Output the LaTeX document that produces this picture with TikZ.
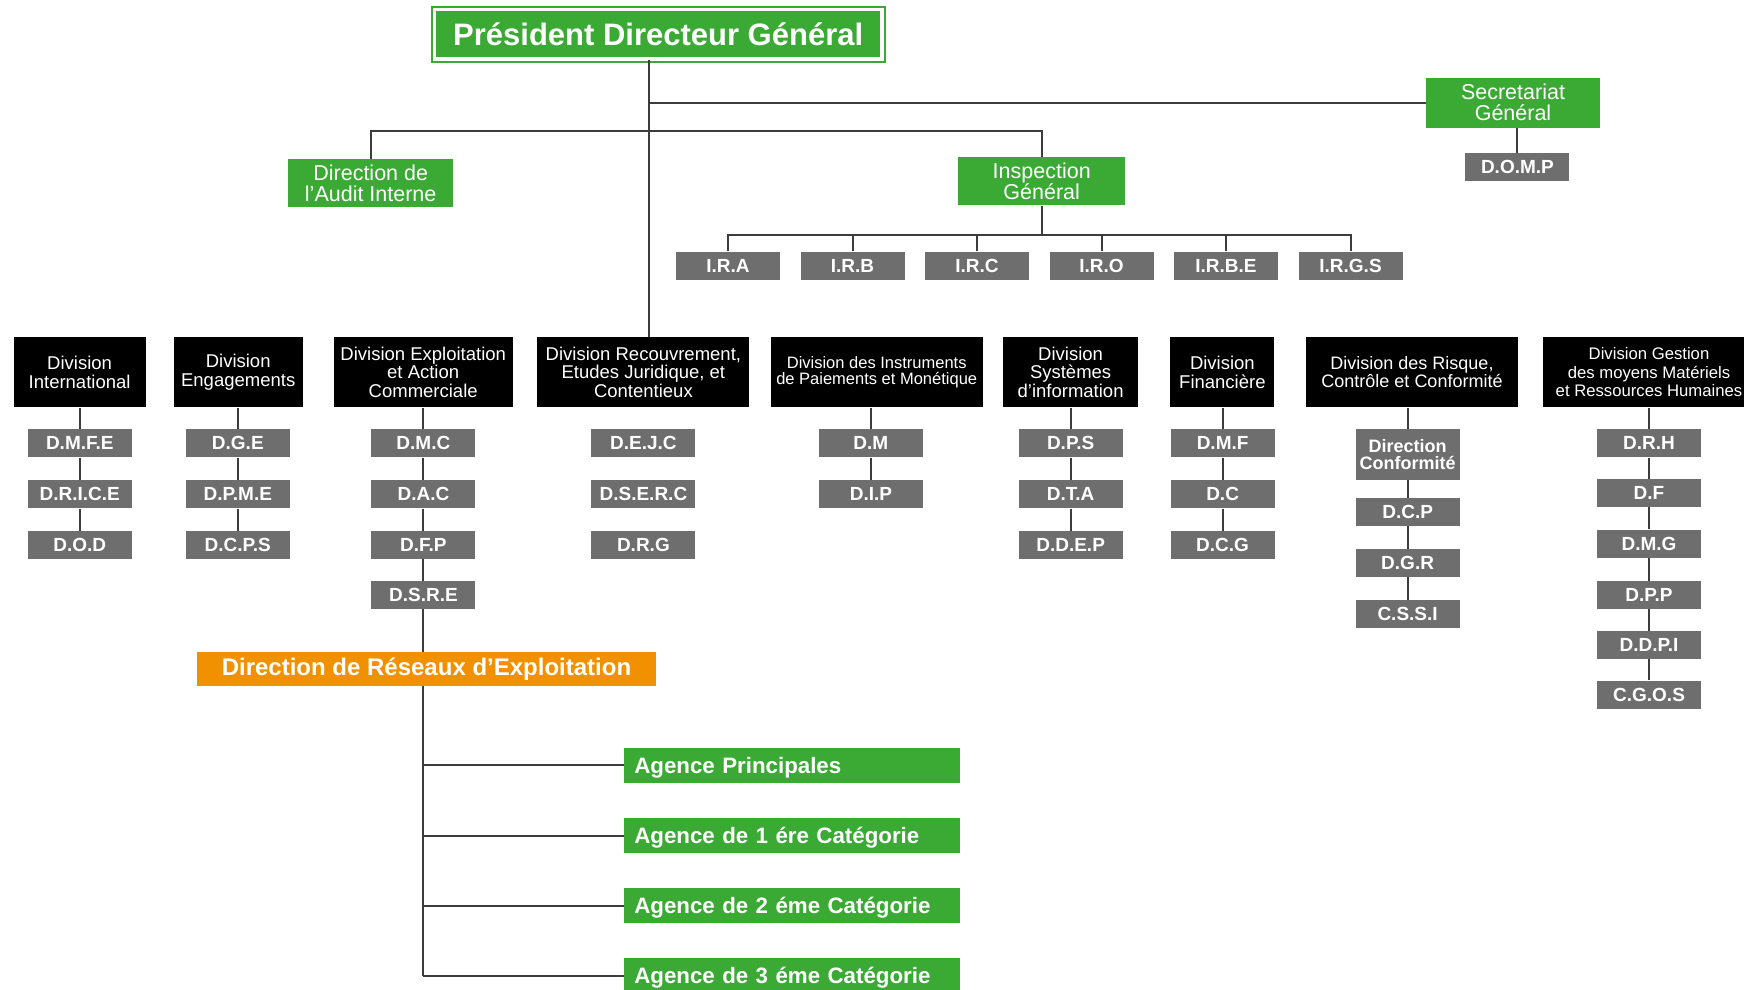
\documentclass[tikz,border=0pt]{standalone}
\usepackage{fontspec}
\setmainfont{Liberation Sans}
\usepackage{xcolor}
\usepackage{tikz}
\usetikzlibrary{calc}
\usetikzlibrary{positioning}
\definecolor{pgreen}{RGB}{59,170,53}
\definecolor{pgray}{RGB}{110,110,110}
\definecolor{porange}{RGB}{242,145,0}
\definecolor{pline}{RGB}{60,60,60}
\tikzstyle{lnk} = [-, draw = pline, line width = 2pt]
\tikzstyle{grn} = [rectangle, fill = pgreen, text = white, inner sep = 0pt, align = center, font = \fontsize{21.5}{20.5}\selectfont]
\tikzstyle{div} = [rectangle, fill = black, text = white, inner sep = 0pt, minimum height = 70pt, align = center, font = \fontsize{18.5}{18.7}\selectfont]
\tikzstyle{sub} = [rectangle, fill = pgray, text = white, inner sep = 0pt, minimum width = 104pt, minimum height = 28pt, align = center, font = \fontsize{19}{19}\selectfont\bfseries]
\tikzstyle{age} = [rectangle, fill = pgreen, text = white, inner xsep = 10.5pt, inner ysep = 0pt, text width = 315pt, minimum height = 35.3pt, text height = 16pt, text depth = 0pt, align = left, font = \fontsize{22.3}{22.3}\selectfont\bfseries]

\begin{document}
\begin{tikzpicture}[x = 1pt, y = -1pt]
\useasboundingbox (0, 0) rectangle (1744, 989);
% top of the chart
\node [rectangle, fill = pgreen, draw = pgreen, double = white, double distance = 3.5pt, line width = 2pt, inner sep = 0pt, minimum width = 447.5pt, minimum height = 49.2pt, text = white, font = \fontsize{31}{31}\selectfont\bfseries] (PDG) at (658.2, 34.3) {Président Directeur Général};
\node [grn, minimum width = 174pt, minimum height = 50pt] (SG) at (1513, 102.5) {Secretariat\\Général};
\node [sub] (DOMP) at (1517.4, 167.2) {D.O.M.P};
\node [grn, minimum width = 165pt, minimum height = 48pt] (AUD) at (370.7, 183.3) {Direction de\\l’Audit Interne};
\node [grn, minimum width = 166.5pt, minimum height = 48pt] (IG) at (1041.7, 181.3) {Inspection\\Général};
\node [sub] (IRA) at (728, 265.5) {I.R.A};
\node [sub] (IRB) at (852.5, 265.5) {I.R.B};
\node [sub] (IRC) at (977, 265.5) {I.R.C};
\node [sub] (IRO) at (1101.5, 265.5) {I.R.O};
\node [sub] (IRBE) at (1226, 265.5) {I.R.B.E};
\node [sub] (IRGS) at (1350.5, 265.5) {I.R.G.S};
\coordinate (SP) at (648.6, 0);
\draw [lnk] (PDG.south -| SP) -- (SP |- 0, 337.3) coordinate (SPE);
\draw [lnk] (SP |- SG.west) to (SG.west);
\draw [lnk] (SG.south -| DOMP.north) to (DOMP.north);
\draw [lnk] (AUD.north) -- ++(0, -28) -| (IG.north);
\draw [lnk] (IG.south) -- ++(0, 29) coordinate (IB);
\draw [lnk] (IRA.north) |- (IB) -| (IRGS.north);
\draw [lnk] (IRB.north) to (IRB.north |- IB);
\draw [lnk] (IRC.north) to (IRC.north |- IB);
\draw [lnk] (IRO.north) to (IRO.north |- IB);
\draw [lnk] (IRBE.north) to (IRBE.north |- IB);

% divisions
\node [div, minimum width = 132pt] (divInt) at (79.6, 372.3) {Division\\International};
\node [div, minimum width = 128.6pt] (divEng) at (238.2, 372.3) {Division\\Engagements};
\node [div, minimum width = 178.6pt] (divExp) at (423.2, 372.3) {Division Exploitation\\et Action\\Commerciale};
\node [div, minimum width = 212pt] (divRec) at (643.4, 372.3) {Division Recouvrement,\\Etudes Juridique, et\\Contentieux};
\node [div, minimum width = 212pt, font = \fontsize{16.5}{16.7}\selectfont] (divIns) at (876.7, 372.3) {Division des Instruments\\de Paiements et Monétique};
\node [div, minimum width = 134.8pt] (divSys) at (1070.6, 372.3) {Division\\Systèmes\\d’information};
\node [div, minimum width = 104pt] (divFin) at (1222.4, 372.3) {Division\\Financière};
\node [div, minimum width = 212pt, font = \fontsize{18}{18.3}\selectfont] (divRsk) at (1412, 372.3) {Division des Risque,\\Contrôle et Conformité};
\node [div, minimum width = 212pt, font = \fontsize{16.7}{18.7}\selectfont] (divGes) at (1649, 372.3) {Division Gestion\\des moyens Matériels\\et Ressources Humaines};

% directions
\node [sub] (DMFE) at (79.8, 443.3) {D.M.F.E};
\node [sub] (DRICE) at (79.8, 494.3) {D.R.I.C.E};
\node [sub] (DOD) at (79.8, 545) {D.O.D};
\node [sub] (DGE) at (237.8, 443.3) {D.G.E};
\node [sub] (DPME) at (237.8, 494.3) {D.P.M.E};
\node [sub] (DCPS) at (237.8, 545) {D.C.P.S};
\node [sub] (DMC) at (423.4, 443.3) {D.M.C};
\node [sub] (DAC) at (423.4, 494.3) {D.A.C};
\node [sub] (DFP) at (423.4, 545) {D.F.P};
\node [sub] (DSRE) at (423.4, 595) {D.S.R.E};
\node [sub] (DEJC) at (643.4, 443.3) {D.E.J.C};
\node [sub] (DSERC) at (643.4, 494.3) {D.S.E.R.C};
\node [sub] (DRG) at (643.4, 545) {D.R.G};
\node [sub] (DM) at (870.9, 443.3) {D.M};
\node [sub] (DIP) at (870.9, 494.3) {D.I.P};
\node [sub] (DPS) at (1070.6, 443.3) {D.P.S};
\node [sub] (DTA) at (1070.6, 494.3) {D.T.A};
\node [sub] (DDEP) at (1070.6, 545) {D.D.E.P};
\node [sub] (DMF) at (1222.6, 443.3) {D.M.F};
\node [sub] (DC) at (1222.6, 494.3) {D.C};
\node [sub] (DCG) at (1222.6, 545) {D.C.G};
\node [sub, minimum height = 50.7pt, font = \fontsize{18}{17.3}\selectfont\bfseries] (DCONF) at (1407.6, 454.7) {Direction\\Conformité};
\node [sub] (DCP) at (1407.6, 512.2) {D.C.P};
\node [sub] (DGR) at (1407.6, 563.2) {D.G.R};
\node [sub] (CSSI) at (1407.6, 613.8) {C.S.S.I};
\node [sub] (DRH) at (1649, 443.3) {D.R.H};
\node [sub] (DF) at (1649, 492.8) {D.F};
\node [sub] (DMG) at (1649, 543.6) {D.M.G};
\node [sub] (DPP) at (1649, 595) {D.P.P};
\node [sub] (DDPI) at (1649, 645) {D.D.P.I};
\node [sub] (CGOS) at (1649, 694.5) {C.G.O.S};

\draw [lnk] (divInt.south -| DMFE.north) to (DMFE.north);
\draw [lnk] (DMFE.south) to (DRICE.north);
\draw [lnk] (DRICE.south) to (DOD.north);
\draw [lnk] (divEng.south -| DGE.north) to (DGE.north);
\draw [lnk] (DGE.south) to (DPME.north);
\draw [lnk] (DPME.south) to (DCPS.north);
\draw [lnk] (divExp.south -| DMC.north) to (DMC.north);
\draw [lnk] (DMC.south) to (DAC.north);
\draw [lnk] (DAC.south) to (DFP.north);
\draw [lnk] (DFP.south) to (DSRE.north);
\draw [lnk] (divIns.south -| DM.north) to (DM.north);
\draw [lnk] (DM.south) to (DIP.north);
\draw [lnk] (divSys.south -| DPS.north) to (DPS.north);
\draw [lnk] (DPS.south) to (DTA.north);
\draw [lnk] (DTA.south) to (DDEP.north);
\draw [lnk] (divFin.south -| DMF.north) to (DMF.north);
\draw [lnk] (DMF.south) to (DC.north);
\draw [lnk] (DC.south) to (DCG.north);
\draw [lnk] (divRsk.south -| DCONF.north) to (DCONF.north);
\draw [lnk] (DCONF.south) to (DCP.north);
\draw [lnk] (DCP.south) to (DGR.north);
\draw [lnk] (DGR.south) to (CSSI.north);
\draw [lnk] (divGes.south -| DRH.north) to (DRH.north);
\draw [lnk] (DRH.south) to (DF.north);
\draw [lnk] (DF.south) to (DMG.north);
\draw [lnk] (DMG.south) to (DPP.north);
\draw [lnk] (DPP.south) to (DDPI.north);
\draw [lnk] (DDPI.south) to (CGOS.north);

% network of agencies
\node [rectangle, fill = porange, text = white, inner sep = 0pt, minimum width = 459pt, minimum height = 34.5pt, font = \fontsize{24}{24}\selectfont\bfseries] (DRE) at (426.5, 669) {Direction de Réseaux d’Exploitation};
\node [age] (AP) at (791.8, 765.3) {Agence Principales};
\node [age] (A1) at (791.8, 835.5) {Agence de 1 ére Catégorie};
\node [age] (A2) at (791.8, 905.5) {Agence de 2 éme Catégorie};
\node [age] (A3) at (791.8, 975.5) {Agence de 3 éme Catégorie};
\draw [lnk] (DSRE.south) to (DSRE.south |- DRE.north);
\draw [lnk] (DSRE.south |- DRE.south) to (DSRE.south |- A3.west);
\draw [lnk] (DSRE.south |- AP.west) to (AP.west);
\draw [lnk] (DSRE.south |- A1.west) to (A1.west);
\draw [lnk] (DSRE.south |- A2.west) to (A2.west);
\draw [lnk] (DSRE.south |- A3.west) to (A3.west);
\end{tikzpicture}
\end{document}
